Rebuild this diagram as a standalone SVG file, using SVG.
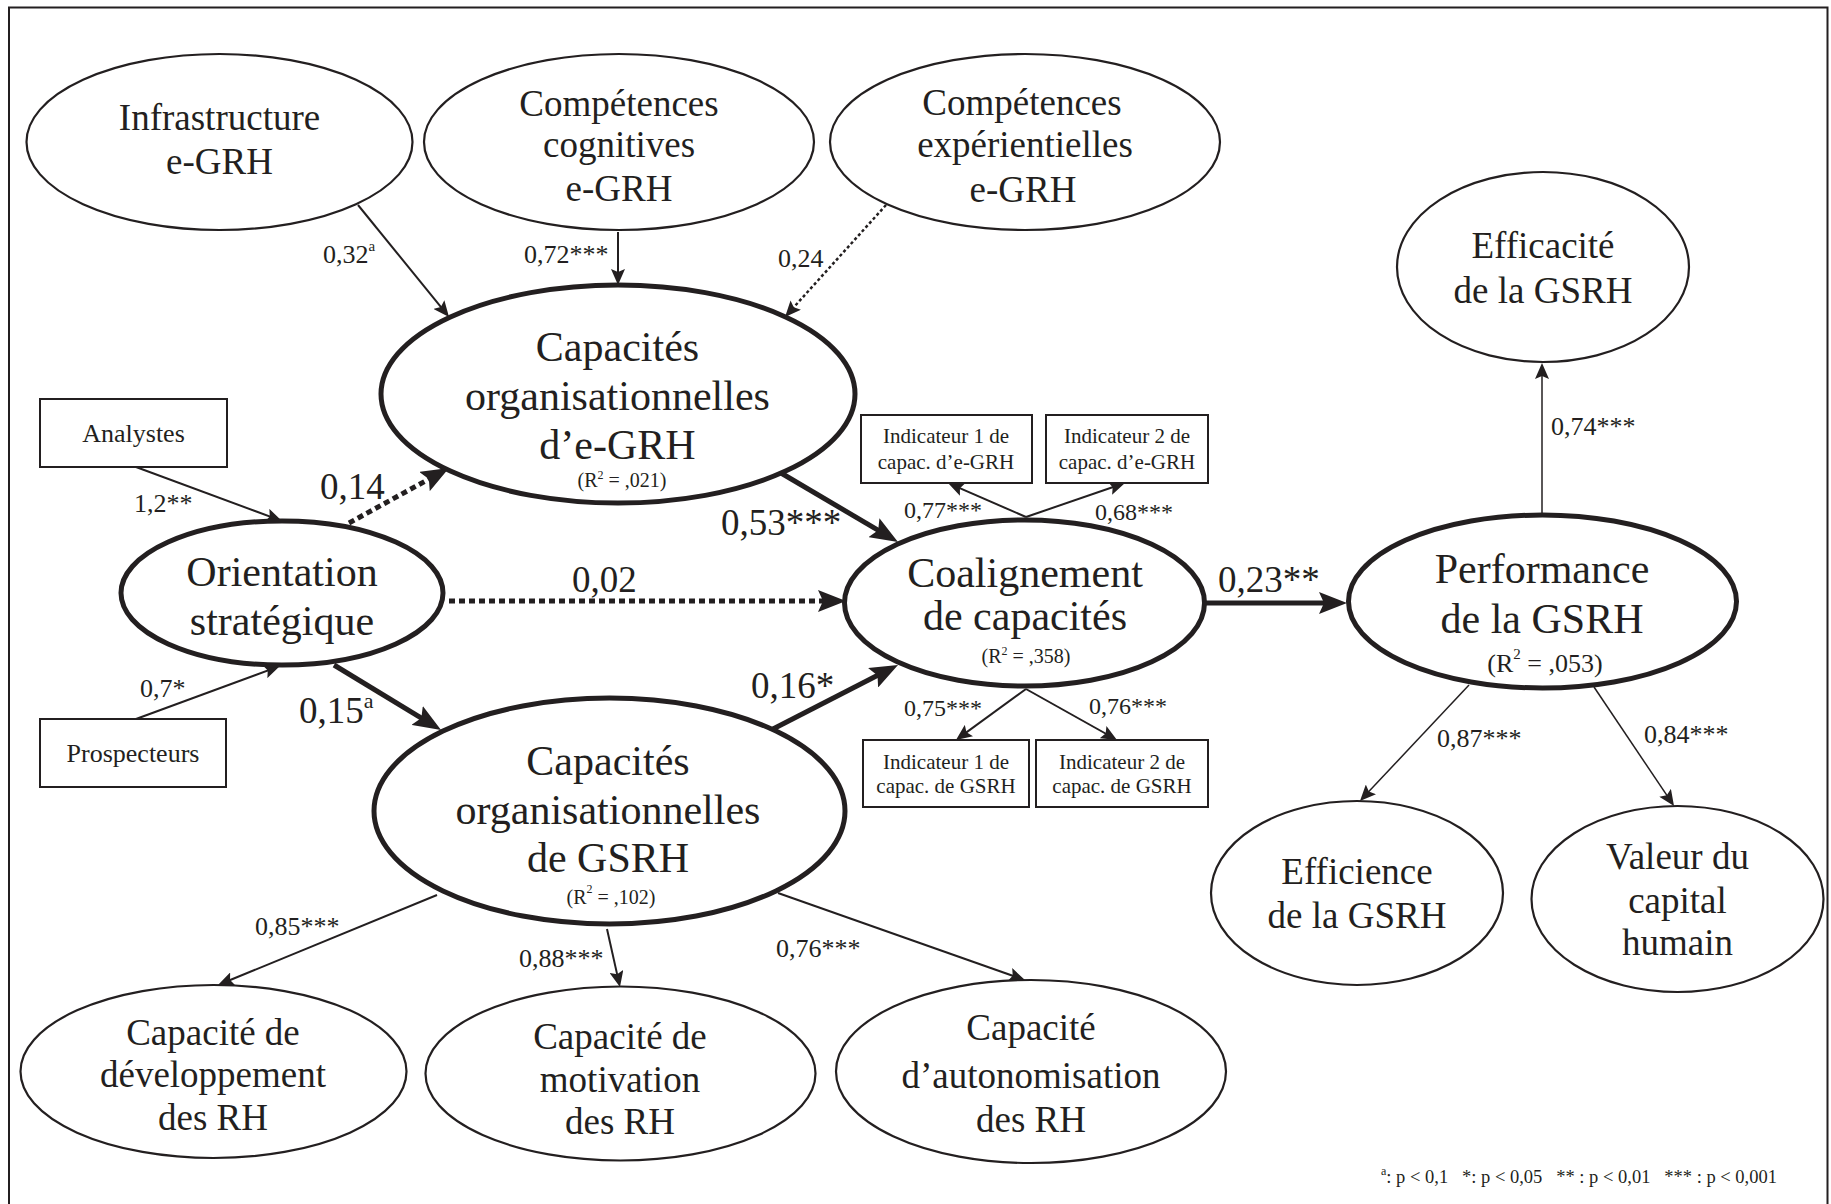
<svg xmlns="http://www.w3.org/2000/svg" width="1831" height="1204" viewBox="0 0 1831 1204">
  <style>
    text { font-family: "Liberation Serif", "Times New Roman", serif; fill: #231f20; text-anchor: middle; }
    .thin { fill: #fff; stroke: #231f20; stroke-width: 2.2; }
    .thick { fill: #fff; stroke: #231f20; stroke-width: 5; }
    .box { fill: #fff; stroke: #231f20; stroke-width: 2; }
    .t37 { font-size: 37px; }
    .t42 { font-size: 42px; }
    .t26 { font-size: 26px; }
    .t21 { font-size: 21px; }
    .r2 { font-size: 20px; }
    .lbl { font-size: 26px; text-anchor: start; }
    .lbls { font-size: 24px; text-anchor: start; }
    .lblb { font-size: 37px; text-anchor: start; }
    .legend { font-size: 18.5px; text-anchor: start; }
    .edge { fill: none; stroke: #231f20; stroke-width: 2; marker-end: url(#headThin); }
    .edge-light { fill: none; stroke: #231f20; stroke-width: 1.5; marker-end: url(#headThin); }
    .edge-dot { fill: none; stroke: #231f20; stroke-width: 2.5; stroke-dasharray: 3 2.5; marker-end: url(#headThin); }
    .edge-bold { fill: none; stroke: #231f20; stroke-width: 5; marker-end: url(#headThick); }
    .edge-bold-dot { fill: none; stroke: #231f20; stroke-width: 5; stroke-dasharray: 6 4; marker-end: url(#headThick); }
  </style>
  <defs>
    <marker id="headThin" markerUnits="userSpaceOnUse" viewBox="0 0 16 14" markerWidth="16" markerHeight="14" refX="12" refY="7" orient="auto">
      <path d="M0,0 L16,7 L0,14 L3,7 z" fill="#231f20"/>
    </marker>
    <marker id="headThick" markerUnits="userSpaceOnUse" viewBox="0 0 28 22" markerWidth="28" markerHeight="22" refX="20" refY="11" orient="auto">
      <path d="M0,0 L28,11 L0,22 L5,11 z" fill="#231f20"/>
    </marker>
  </defs>

  <rect width="1831" height="1204" fill="#fff"/>
  <!-- outer frame -->
  <path d="M9,1212 V7.5 H1827.5 V1212" fill="none" stroke="#231f20" stroke-width="2"/>

  <!-- connectors -->
  <g id="connectors">
    <path class="edge" d="M358,205 L446.5,313.9"/>
    <path class="edge" d="M618,232 L618,281"/>
    <path class="edge-dot" d="M886,205 L787.7,314"/>
    <path class="edge" d="M136,467 L278.2,519.6"/>
    <path class="edge" d="M136,719 L276.2,667.4"/>
    <path class="edge-bold-dot" d="M349,523 L442,471.9"/>
    <path class="edge-bold-dot" d="M449,601 L838,601"/>
    <path class="edge-bold" d="M334,665 L434.2,725.8"/>
    <path class="edge-bold" d="M781,473 L891.1,537.9"/>
    <path class="edge-bold" d="M773,729 L890.9,668.6"/>
    <path class="edge-bold" d="M1205,603 L1339,603"/>
    <path class="edge" d="M1026,517 L951.7,484.6"/>
    <path class="edge" d="M1026,517 L1121.2,484.3"/>
    <path class="edge" d="M1026,689 L959.2,737.6"/>
    <path class="edge" d="M1026,689 L1113.5,738"/>
    <path class="edge" d="M437,895 L221.7,983.5"/>
    <path class="edge" d="M607,929 L619.1,983.1"/>
    <path class="edge" d="M778,893 L1021.2,978.7"/>
    <path class="edge-light" d="M1542,515 L1542,367"/>
    <path class="edge-light" d="M1469,685 L1362.7,798.1"/>
    <path class="edge-light" d="M1594,687 L1671.8,802.7"/>

    <!-- path coefficients -->
    <text class="lbl" x="323" y="263">0,32<tspan font-size="15" dy="-12">a</tspan></text>
    <text class="lbl" x="524" y="263">0,72***</text>
    <text class="lbl" x="778" y="267">0,24</text>
    <text class="lbl" x="134" y="512">1,2**</text>
    <text class="lbl" x="140" y="697">0,7*</text>
    <text class="lblb" x="320" y="499">0,14</text>
    <text class="lblb" x="572" y="592">0,02</text>
    <text class="lblb" x="299" y="723">0,15<tspan font-size="22" dy="-15">a</tspan></text>
    <text class="lblb" x="721" y="535">0,53***</text>
    <text class="lblb" x="751" y="698">0,16*</text>
    <text class="lblb" x="1218" y="592">0,23**</text>
    <text class="lbls" x="904" y="518">0,77***</text>
    <text class="lbls" x="1095" y="520">0,68***</text>
    <text class="lbls" x="904" y="716">0,75***</text>
    <text class="lbls" x="1089" y="714">0,76***</text>
    <text class="lbl" x="1551" y="435">0,74***</text>
    <text class="lbl" x="1437" y="747">0,87***</text>
    <text class="lbl" x="1644" y="743">0,84***</text>
    <text class="lbl" x="255" y="935">0,85***</text>
    <text class="lbl" x="519" y="967">0,88***</text>
    <text class="lbl" x="776" y="957">0,76***</text>
  </g>

  <!-- nodes -->
  <g id="infrastructure">
    <ellipse class="thin" cx="219.5" cy="142" rx="193" ry="88"/>
    <text class="t37" x="219.5" y="130">Infrastructure</text>
    <text class="t37" x="219.5" y="174">e-GRH</text>
  </g>
  <g id="competences-cognitives">
    <ellipse class="thin" cx="619" cy="142" rx="195" ry="88"/>
    <text class="t37" x="619" y="116">Compétences</text>
    <text class="t37" x="619" y="157">cognitives</text>
    <text class="t37" x="619" y="201">e-GRH</text>
  </g>
  <g id="competences-experientielles">
    <ellipse class="thin" cx="1025" cy="142" rx="195" ry="88"/>
    <text class="t37" x="1022" y="115">Compétences</text>
    <text class="t37" x="1025" y="157">expérientielles</text>
    <text class="t37" x="1023" y="202">e-GRH</text>
  </g>
  <g id="efficacite">
    <ellipse class="thin" cx="1543" cy="267" rx="146" ry="95"/>
    <text class="t37" x="1543" y="258">Efficacité</text>
    <text class="t37" x="1543" y="303">de la GSRH</text>
  </g>
  <g id="analystes">
    <rect class="box" x="40" y="399" width="187" height="68"/>
    <text class="t26" x="133.5" y="442">Analystes</text>
  </g>
  <g id="prospecteurs">
    <rect class="box" x="40" y="719" width="186" height="68"/>
    <text class="t26" x="133" y="762">Prospecteurs</text>
  </g>
  <g id="orientation">
    <ellipse class="thick" cx="282" cy="593" rx="161" ry="72"/>
    <text class="t42" x="282" y="586">Orientation</text>
    <text class="t42" x="282" y="635">stratégique</text>
  </g>
  <g id="capacites-egrh">
    <ellipse class="thick" cx="618" cy="394" rx="237" ry="109"/>
    <text class="t42" x="617.5" y="361">Capacités</text>
    <text class="t42" x="617.5" y="410">organisationnelles</text>
    <text class="t42" x="617.5" y="459">d’e-GRH</text>
    <text class="r2" x="622" y="487">(R<tspan font-size="12" dy="-8">2</tspan><tspan dy="8"> = ,021)</tspan></text>
  </g>
  <g id="capacites-gsrh">
    <ellipse class="thick" cx="609.5" cy="811" rx="235.5" ry="113"/>
    <text class="t42" x="608" y="775">Capacités</text>
    <text class="t42" x="608" y="824">organisationnelles</text>
    <text class="t42" x="608" y="872">de GSRH</text>
    <text class="r2" x="611" y="904">(R<tspan font-size="12" dy="-11">2</tspan><tspan dy="11"> = ,102)</tspan></text>
  </g>
  <g id="coalignement">
    <ellipse class="thick" cx="1024.5" cy="603" rx="180" ry="83"/>
    <text class="t42" x="1025" y="587">Coalignement</text>
    <text class="t42" x="1025" y="630">de capacités</text>
    <text class="r2" x="1026" y="663">(R<tspan font-size="12" dy="-8">2</tspan><tspan dy="8"> = ,358)</tspan></text>
  </g>
  <g id="indicateur-1-egrh">
    <rect class="box" x="861" y="415" width="171" height="68"/>
    <text class="t21" x="946" y="443">Indicateur 1 de</text>
    <text class="t21" x="946" y="468.5">capac. d’e-GRH</text>
  </g>
  <g id="indicateur-2-egrh">
    <rect class="box" x="1046" y="415" width="162" height="68"/>
    <text class="t21" x="1127" y="443">Indicateur 2 de</text>
    <text class="t21" x="1127" y="468.5">capac. d’e-GRH</text>
  </g>
  <g id="indicateur-1-gsrh">
    <rect class="box" x="863" y="740" width="166" height="67"/>
    <text class="t21" x="946" y="768.5">Indicateur 1 de</text>
    <text class="t21" x="946" y="793">capac. de GSRH</text>
  </g>
  <g id="indicateur-2-gsrh">
    <rect class="box" x="1036" y="740" width="172" height="67"/>
    <text class="t21" x="1122" y="768.5">Indicateur 2 de</text>
    <text class="t21" x="1122" y="793">capac. de GSRH</text>
  </g>
  <g id="performance">
    <ellipse class="thick" cx="1542.5" cy="601.5" rx="194" ry="86.5"/>
    <text class="t42" x="1542" y="583">Performance</text>
    <text class="t42" x="1542" y="633">de la GSRH</text>
    <text class="t26" x="1545" y="672">(R<tspan font-size="15" dy="-13">2</tspan><tspan dy="13"> = ,053)</tspan></text>
  </g>
  <g id="efficience">
    <ellipse class="thin" cx="1357" cy="893" rx="146" ry="92"/>
    <text class="t37" x="1357" y="884">Efficience</text>
    <text class="t37" x="1357" y="928">de la GSRH</text>
  </g>
  <g id="valeur-capital">
    <ellipse class="thin" cx="1677.5" cy="899" rx="146" ry="93"/>
    <text class="t37" x="1677.5" y="869">Valeur du</text>
    <text class="t37" x="1677.5" y="913">capital</text>
    <text class="t37" x="1677.5" y="955">humain</text>
  </g>
  <g id="developpement">
    <ellipse class="thin" cx="213.5" cy="1071.5" rx="193" ry="86.5"/>
    <text class="t37" x="213" y="1045">Capacité de</text>
    <text class="t37" x="213" y="1087">développement</text>
    <text class="t37" x="213" y="1130">des RH</text>
  </g>
  <g id="motivation">
    <ellipse class="thin" cx="620.5" cy="1073.5" rx="195" ry="87"/>
    <text class="t37" x="620" y="1049">Capacité de</text>
    <text class="t37" x="620" y="1092">motivation</text>
    <text class="t37" x="620" y="1134">des RH</text>
  </g>
  <g id="autonomisation">
    <ellipse class="thin" cx="1031" cy="1071.5" rx="195" ry="91.5"/>
    <text class="t37" x="1031" y="1040">Capacité</text>
    <text class="t37" x="1031" y="1088">d’autonomisation</text>
    <text class="t37" x="1031" y="1132">des RH</text>
  </g>

  <!-- significance legend -->
  <text class="legend" x="1381" y="1183" xml:space="preserve"><tspan font-size="12" dy="-8">a</tspan><tspan dy="8">: p &lt; 0,1   *: p &lt; 0,05   ** : p &lt; 0,01   *** : p &lt; 0,001</tspan></text>
</svg>
